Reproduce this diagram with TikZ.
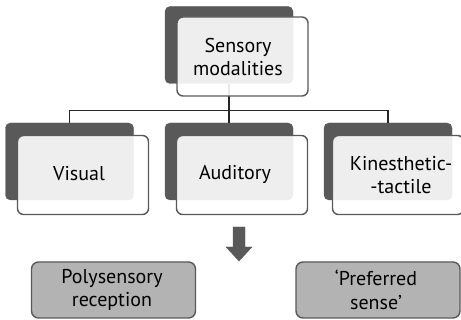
\documentclass[tikz,border=0pt]{standalone}
\usepackage{fontspec}
\setmainfont{PT Sans}
\definecolor{darkbox}{HTML}{595959}
\definecolor{lowbox}{HTML}{B3B3B3}
\tikzset{
  backbox/.style={draw=darkbox, fill=darkbox, rounded corners=5pt, minimum width=128pt, minimum height=77pt, inner sep=0pt},
  frontbox/.style={draw=darkbox, line width=1.4pt, fill=white, fill opacity=0.9, rounded corners=6pt, minimum width=131pt, minimum height=79pt, inner sep=0pt},
  lbl/.style={align=center, inner sep=0pt, text=black, font=\fontsize{20}{23.5}\selectfont},
  lowerbox/.style={draw=darkbox, line width=1.4pt, fill=lowbox, rounded corners=7pt, minimum width=164pt, minimum height=56pt, inner sep=0pt},
  conn/.style={draw=black!85, line width=1.4pt},
  bigarrow/.style={fill=darkbox, draw=darkbox}
}
\begin{document}
\begin{tikzpicture}[x=1pt,y=-1pt]
\useasboundingbox (0,0) rectangle (461,320);
% back boxes
\node[backbox] (tb) at (229,45) {};
\node[backbox] (vb) at (69.5,161.5) {};
\node[backbox] (ab) at (229,161.5) {};
\node[backbox] (kb) at (388,161.5) {};
% connectors
\coordinate (bus) at (229,110.5);
\draw[conn] (tb.south) -- (bus);
\draw[conn] (vb.north) |- (bus) -| (kb.north);
\draw[conn] (bus) -- (ab.north);
% front boxes
\node[frontbox] (tf) at (242.5,56.5) {};
\node[frontbox] (vf) at (83,175) {};
\node[frontbox] (af) at (242,175) {};
\node[frontbox] (kf) at (398,175) {};
\node[lbl] (tt) at (238,57) {Sensory\\modalities};
\node[lbl] (vt) at (79,174) {Visual};
\node[lbl] (at) at (235,174) {Auditory};
\node[lbl] (kt) at (401,175) {Kinesthetic-\\-tactile};
% arrow
\fill[bigarrow] (233,227) -- (245,227) -- (245,247) -- (252,247) -- (239,261) -- (226,247) -- (233,247) -- cycle;
% lower boxes
\node[lowerbox] (poly) at (113.5,290) {};
\node[lowerbox] (pref) at (378,290) {};
\node[lbl] (pt) at (112,290) {Polysensory\\reception};
\node[lbl] (rt) at (376,290) {‘Preferred\\sense’};
\end{tikzpicture}
\end{document}
